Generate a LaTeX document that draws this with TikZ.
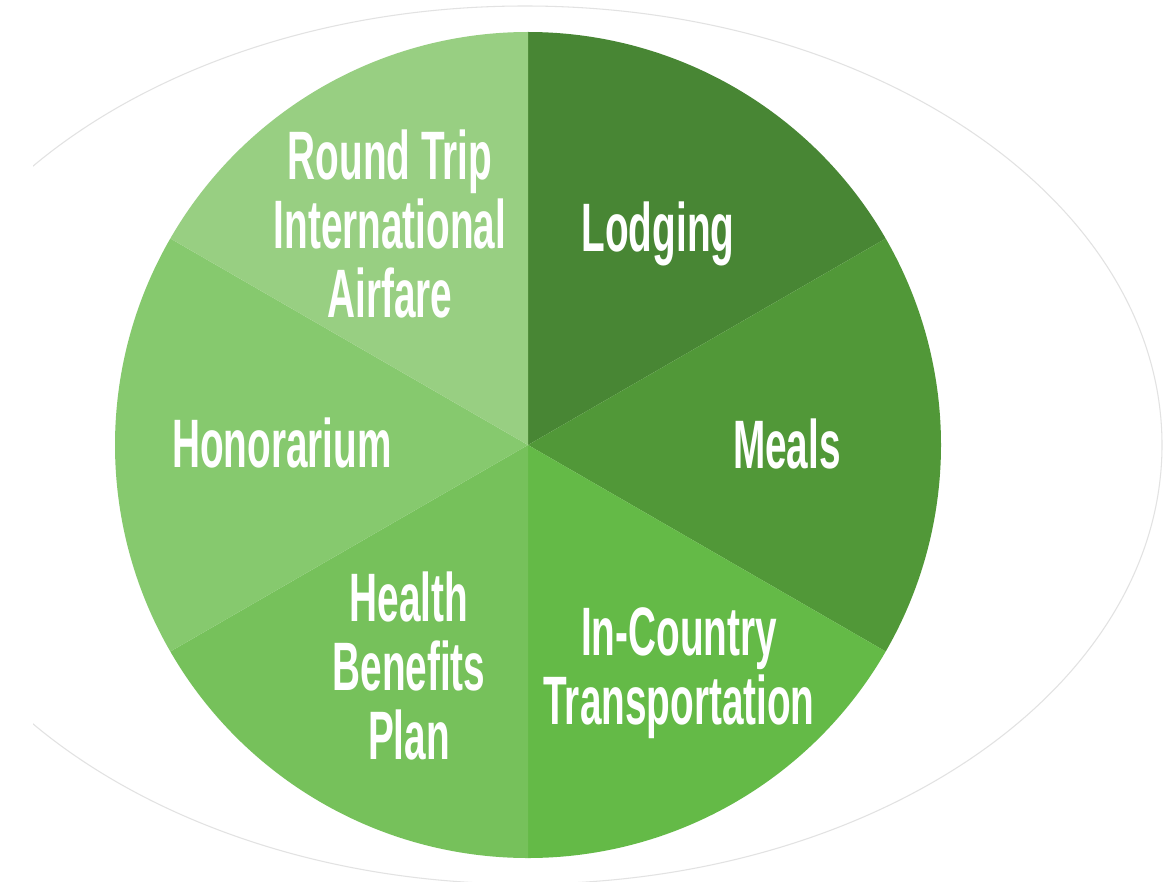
\documentclass[tikz,border=0pt]{standalone}
\usepackage{fontspec}
\newfontfamily\piefont[FakeStretch=0.565]{Liberation Sans}
\usetikzlibrary{positioning, calc}
\definecolor{lodgeGreen}{HTML}{488634}
\definecolor{mealGreen}{HTML}{519838}
\definecolor{countryGreen}{HTML}{64BA47}
\definecolor{healthGreen}{HTML}{76C15B}
\definecolor{honGreen}{HTML}{86C96E}
\definecolor{tripGreen}{HTML}{98CF82}
\definecolor{rimGray}{HTML}{E2E2E2}
\tikzstyle{Label} = [
text=white,
align=center,
font=\piefont\bfseries\fontsize{19.5}{19.6}\selectfont]

\begin{document}
\begin{tikzpicture}[x=0.01cm, y=0.01cm]
    \useasboundingbox (0,0) rectangle (1170,881);
    \fill[white] (0,0) rectangle (1170,881);
    \coordinate (c) at (528,436);

    % faint outer ring
    \begin{scope}
        \clip (33,0) rectangle (1170,881);
        \draw[rimGray, line width=0.3pt] (525,436) ellipse [x radius=637, y radius=439];
    \end{scope}

    % the six slices
    \foreach \a/\col in {30/lodgeGreen, -30/mealGreen, -90/countryGreen,
                         -150/healthGreen, 150/honGreen, 90/tripGreen}
        \fill[\col] (c) -- ++(\a:413) arc (\a:\a+60:413) -- cycle;

    \node[Label] (trip) at (390,657) {Round Trip\\International\\Airfare};
    \node[Label] (lodge) at (658,647) {Lodging};
    \node[Label] (meals) at (787,437) {Meals};
    \node[Label] (hon) at (282,438) {Honorarium};
    \node[Label] (health) at (409,215) {Health\\Benefits\\Plan};
    \node[Label] (country) at (679,208) {In-Country\\Transportation};
\end{tikzpicture}
\end{document}
